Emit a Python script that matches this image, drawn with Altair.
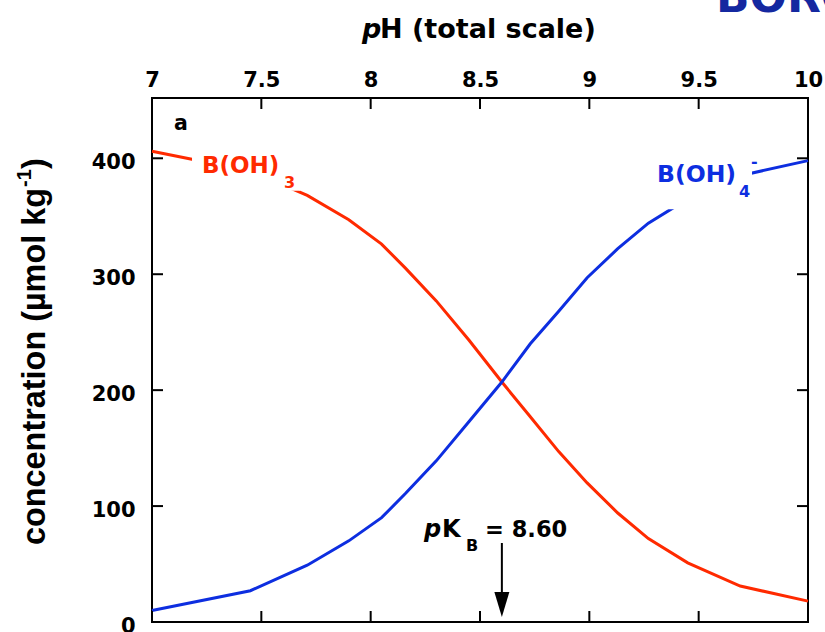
import altair as alt
import pandas as pd

# ---- data ----
ph = [7.0, 7.45, 7.71, 7.90, 8.05, 8.16, 8.30, 8.45, 8.60, 8.73, 8.86, 8.99, 9.13, 9.27, 9.45, 9.69, 10.0]
boric = [406, 389, 368, 347, 326, 305, 277, 243, 207, 177, 147, 120, 94, 72, 51, 31, 18]
borate = [10, 27, 49, 70, 90, 111, 139, 173, 207, 240, 268, 297, 322, 344, 365, 385, 398]
series = ["B(OH)3", "B(OH)4-"]
x_ticks = [7, 7.5, 8, 8.5, 9, 9.5, 10]
y_ticks = [0, 100, 200, 300, 400]
pkb = [8.6]
# white boxes behind the curve labels (pH and concentration extents)
mask_ph_lo = [7.183, 9.286]
mask_ph_hi = [7.677, 9.744]
mask_c_lo = [372, 356]
mask_c_hi = [411, 405]

RED = "#ff2a00"
BLUE = "#0d2ee0"
W, H = 656, 524
TICK = 11
FONT = "DejaVu Sans"

xs = alt.Scale(domain=[7, 10], nice=False, zero=False)
ys = alt.Scale(domain=[0, 452], nice=False, zero=False)

AX = alt.Axis(
    orient="top", values=x_ticks, labelExpr="'' + datum.value", title=None,
    domain=False, ticks=False, grid=False, labelFlush=False,
    labelOverlap=False, labelFont=FONT, labelFontWeight="bold", labelFontSize=21,
    labelColor="black", labelPadding=12, labelBaseline="alphabetic", labelAngle=0)
AY = alt.Axis(
    orient="left", values=y_ticks, format="d", title=None, domain=False, ticks=False,
    grid=False, labelFlush=False, labelOverlap=False, labelFont=FONT,
    labelFontWeight="bold", labelFontSize=21, labelColor="black", labelPadding=17,
    labelBaseline="alphabetic", labelOffset=10, labelAlign="right")

df = pd.DataFrame({
    "pH": ph * 2,
    "c": boric + borate,
    "s": [series[0]] * len(ph) + [series[1]] * len(ph),
})

lines = alt.Chart(df).mark_line(strokeWidth=3).encode(
    x=alt.X("pH:Q", scale=xs, axis=AX),
    y=alt.Y("c:Q", scale=ys, axis=AY),
    color=alt.Color("s:N", scale=alt.Scale(domain=series, range=[RED, BLUE]), legend=None),
)

mask = alt.Chart(pd.DataFrame({
    "x1": mask_ph_lo, "x2": mask_ph_hi, "y1": mask_c_lo, "y2": mask_c_hi
})).mark_rect(color="white", opacity=1).encode(
    x=alt.X("x1:Q", scale=xs, axis=AX), x2="x2:Q",
    y=alt.Y("y1:Q", scale=ys, axis=AY), y2="y2:Q",
)

tx = pd.DataFrame({"v": x_ticks})
ty = pd.DataFrame({"v": y_ticks})
top_ticks = alt.Chart(tx).mark_rule(color="black", strokeWidth=2).encode(
    x=alt.X("v:Q", scale=xs, axis=AX), y=alt.value(0), y2=alt.value(TICK))
bot_ticks = alt.Chart(tx).mark_rule(color="black", strokeWidth=2).encode(
    x=alt.X("v:Q", scale=xs, axis=AX), y=alt.value(H - TICK), y2=alt.value(H))
left_ticks = alt.Chart(ty).mark_rule(color="black", strokeWidth=2).encode(
    y=alt.Y("v:Q", scale=ys, axis=AY), x=alt.value(0), x2=alt.value(TICK))
right_ticks = alt.Chart(ty).mark_rule(color="black", strokeWidth=2).encode(
    y=alt.Y("v:Q", scale=ys, axis=AY), x=alt.value(W - TICK), x2=alt.value(W))

pk_df = pd.DataFrame({"pk": pkb})
shaft = alt.Chart(pk_df).mark_rule(color="black", strokeWidth=2).encode(
    x=alt.X("pk:Q", scale=xs, axis=AX), y=alt.value(445), y2=alt.value(496))
head = alt.Chart(pk_df).mark_point(
    shape="M-0.6,-1L0.6,-1L0,1Z", size=625, filled=True, color="black", opacity=1, strokeWidth=0
).encode(x=alt.X("pk:Q", scale=xs, axis=AX), y=alt.value(506.5))


def label(text, x, y, size, color="black", font=FONT, weight="bold", style="normal", angle=0):
    return alt.Chart(pd.DataFrame({"t": [text]})).mark_text(
        align="left", baseline="alphabetic", font=font, fontSize=size, fontWeight=weight,
        fontStyle=style, color=color, angle=angle,
    ).encode(x=alt.value(x), y=alt.value(y), text="t:N")


texts = [
    # x-axis title
    label("p", 210, -60, 27, style="italic"),
    label("H (total scale)", 228, -60, 27),
    # y-axis title (rotated)
    label("concentration (µmol kg", -107, 447, 32.4, font="Liberation Sans", angle=270),
    label("-1", -121, 89, 20, font="Liberation Sans", angle=270),
    label(")", -107, 71, 32.4, font="Liberation Sans", angle=270),
    # panel letter
    label("a", 22, 32, 20.5),
    # curve labels
    label("B(OH)", 50, 75.3, 23, color=RED),
    label("3", 132, 90.3, 16, color=RED),
    label("B(OH)", 505, 84, 23.5, color=BLUE),
    label("4", 587, 99, 16, color=BLUE),
    label("-", 599, 69, 16, color=BLUE),
    # pK_B annotation
    label("p", 272, 438.7, 24, style="italic"),
    label("K", 290, 438.7, 24),
    label("B", 314, 452.7, 16),
    label("= 8.60", 333, 438.7, 22.5),
    # cropped heading at top right
    label("BORON", 564, -86, 44, color="#1428a0"),
]

chart = alt.layer(
    lines, mask, top_ticks, bot_ticks, left_ticks, right_ticks, shaft, head, *texts
).properties(
    width=W, height=H,
    autosize=alt.AutoSizeParams(type="none"),
    padding={"left": 152, "top": 98, "right": 17, "bottom": 10},
).configure_view(stroke="black", strokeWidth=2)

chart.save("out.html", embed_options={"renderer": "svg", "actions": False})
